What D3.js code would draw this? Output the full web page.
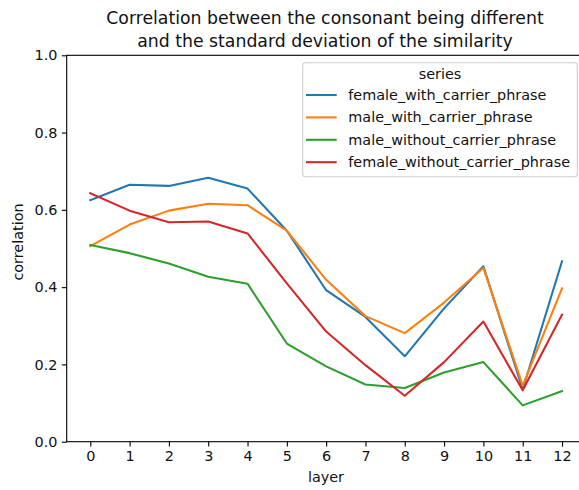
<!DOCTYPE html>
<html>
<head>
<meta charset="utf-8">
<script src="https://cdn.jsdelivr.net/npm/d3@7"></script>
<style>
  html, body { margin: 0; padding: 0; background: #fff; }
  svg { display: block; }
  text { font-family: "DejaVu Sans", sans-serif; fill: #111; }
</style>
</head>
<body>
<svg id="chart" width="579" height="490"></svg>
<script>
const layers = [0, 1, 2, 3, 4, 5, 6, 7, 8, 9, 10, 11, 12];
const seriesNames = ["female_with_carrier_phrase", "male_with_carrier_phrase", "male_without_carrier_phrase", "female_without_carrier_phrase"];
const colors = ["#1f77b4", "#ff7f0e", "#2ca02c", "#d62728"];
const femaleWith = [0.625, 0.665, 0.662, 0.683, 0.655, 0.546, 0.392, 0.323, 0.221, 0.345, 0.454, 0.135, 0.467];
const maleWith = [0.506, 0.562, 0.598, 0.616, 0.612, 0.546, 0.419, 0.325, 0.281, 0.360, 0.450, 0.145, 0.397];
const maleWithout = [0.509, 0.488, 0.461, 0.427, 0.409, 0.254, 0.195, 0.148, 0.139, 0.179, 0.206, 0.094, 0.131];
const femaleWithout = [0.643, 0.598, 0.568, 0.570, 0.539, 0.410, 0.285, 0.198, 0.119, 0.206, 0.311, 0.133, 0.329];
const yTicks = [0.0, 0.2, 0.4, 0.6, 0.8, 1.0];
const titleLines = ["Correlation between the consonant being different", "and the standard deviation of the similarity"];

const seriesValues = [femaleWith, maleWith, maleWithout, femaleWithout];

(function () {
const svg = d3.select("#chart");
const pL = 66.7, pR = 585.6, pT = 55.3, pB = 441.7;
const fs = "14.4px";

const x = d3.scaleLinear().domain([-0.6, 12.6]).range([pL, pR]);
const y = d3.scaleLinear().domain([0, 1]).range([pB, pT]);

// lines
const line = d3.line().x((d, i) => x(layers[i])).y(d => y(d));
const g = svg.append("g");
seriesValues.forEach((vals, k) => {
  g.append("path")
    .datum(vals)
    .attr("d", line)
    .attr("fill", "none")
    .attr("stroke", colors[k])
    .attr("stroke-width", 2.08)
    .attr("stroke-linejoin", "round")
    .attr("stroke-linecap", "square");
});

// axes
const xAxis = d3.axisBottom(x).tickValues(layers).tickFormat(d3.format("d")).tickSize(4.9).tickPadding(4.2);
const yAxis = d3.axisLeft(y).tickValues(yTicks).tickFormat(d3.format(".1f")).tickSize(4.9).tickPadding(4.4);

const gx = svg.append("g").attr("transform", `translate(0,${pB})`).call(xAxis);
const gy = svg.append("g").attr("transform", `translate(${pL},0)`).call(yAxis);
[gx, gy].forEach(a => {
  a.select(".domain").remove();
  a.selectAll(".tick line").attr("stroke", "#000").attr("stroke-width", 1.1);
  a.selectAll(".tick text").attr("font-size", fs).attr("fill", "#111").style("font-family", "DejaVu Sans, sans-serif");
});

// spines
svg.append("rect")
  .attr("x", pL).attr("y", pT)
  .attr("width", pR - pL).attr("height", pB - pT)
  .attr("fill", "none").attr("stroke", "#000").attr("stroke-width", 1.1);

// labels
svg.append("text").attr("x", 326).attr("y", 481.5).attr("text-anchor", "middle")
  .attr("font-size", fs).text("layer");
svg.append("text").attr("transform", "translate(23,242) rotate(-90)").attr("text-anchor", "middle")
  .attr("font-size", fs).text("correlation");

// title
titleLines.forEach((t, i) => {
  svg.append("text").attr("x", 325).attr("y", 24 + i * 22.5).attr("text-anchor", "middle")
    .attr("font-size", "17.3px").attr("fill", "#000").text(t);
});

// legend
const lg = svg.append("g");
lg.append("rect").attr("x", 302.7).attr("y", 62.7).attr("width", 274.6).attr("height", 114)
  .attr("rx", 2.8).attr("fill", "#fff").attr("fill-opacity", 0.8)
  .attr("stroke", "#d0d0d0").attr("stroke-width", 1.1);
lg.append("text").attr("x", 440).attr("y", 79).attr("text-anchor", "middle")
  .attr("font-size", fs).text("series");
seriesNames.forEach((name, k) => {
  const cy = 95 + k * 22.4;
  lg.append("line").attr("x1", 306).attr("x2", 336.7).attr("y1", cy).attr("y2", cy)
    .attr("stroke", colors[k]).attr("stroke-width", 2.08);
  lg.append("text").attr("x", 348.3).attr("y", cy + 5).attr("font-size", fs).text(name);
});
})();
</script>
</body>
</html>
